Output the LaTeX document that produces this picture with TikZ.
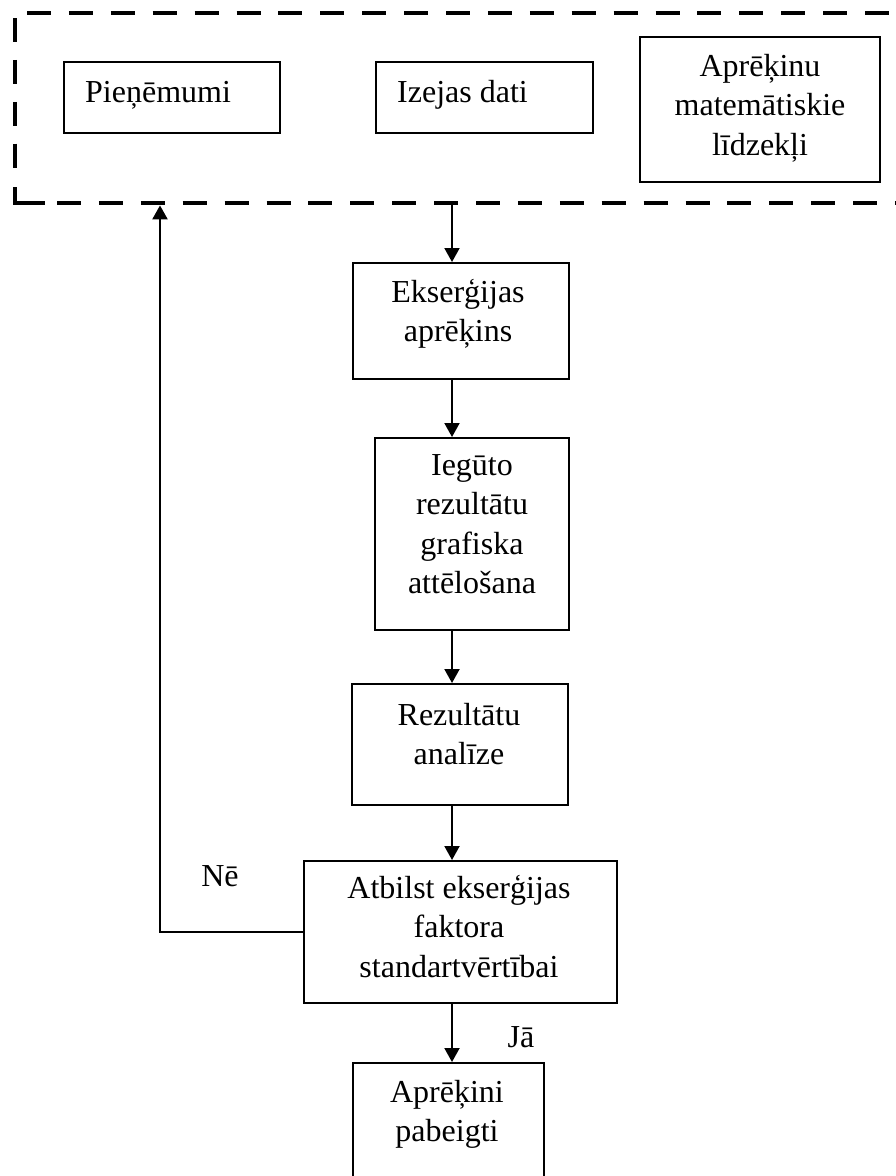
\documentclass[tikz,border=0pt]{standalone}
\usepackage{fontspec}
\setmainfont{Liberation Serif}
\usetikzlibrary{arrows.meta,calc}

\begin{document}
\begin{tikzpicture}[x=1pt,y=-1pt,
  box/.style={draw, line width=1.8pt, inner sep=0pt, anchor=north west},
  lbl/.style={inner sep=0pt, anchor=base, font=\fontsize{32}{39.5}\selectfont},
  flow/.style={line width=2pt, -{Triangle[width=15pt,length=14pt]}},
  frameline/.style={line width=4pt, dash pattern=on 24pt off 17.9pt},
]
\useasboundingbox (0,0) rectangle (896,1176);

% dashed group frame (open on the right)
\node[inner sep=0pt, minimum width=900pt, minimum height=192pt, anchor=north west] (frame) at (15,13) {};
\draw[frameline] (27,13) -- (900,13);
\draw[frameline] (15,18) -- (15,185);
\draw[line width=4pt] (15,187) -- (15,203) -- (45,203);
\draw[frameline] (57,203) -- (900,203);

% boxes
\node[box, minimum width=216pt, minimum height=71pt]  (pien) at (63,61) {};
\node[box, minimum width=217pt, minimum height=71pt]  (izej) at (375,61) {};
\node[box, minimum width=240pt, minimum height=145pt] (apr)  at (639,36) {};
\node[box, minimum width=216pt, minimum height=116pt] (eks)  at (352,262) {};
\node[box, minimum width=194pt, minimum height=192pt] (ieg)  at (374,437) {};
\node[box, minimum width=216pt, minimum height=121pt] (rez)  at (351,683) {};
\node[box, minimum width=313pt, minimum height=142pt] (dec)  at (303,860) {};
\node[box, minimum width=191pt, minimum height=130pt] (pab)  at (352,1062) {};

% texts
\node[lbl, anchor=base west] (tpien) at (85,102) {Pieņēmumi};
\node[lbl, anchor=base west] (tizej) at (397,102) {Izejas dati};
\node[lbl] (tapr) at (760,76) {\begin{tabular}[t]{@{}c@{}}Aprēķinu\\matemātiskie\\līdzekļi\end{tabular}};
\node[lbl] (teks) at (458,302) {\begin{tabular}[t]{@{}c@{}}Ekserģijas\\aprēķins\end{tabular}};
\node[lbl] (tieg) at (472,475) {\begin{tabular}[t]{@{}c@{}}Iegūto\\rezultātu\\grafiska\\attēlošana\end{tabular}};
\node[lbl] (trez) at (459,725) {\begin{tabular}[t]{@{}c@{}}Rezultātu\\analīze\end{tabular}};
\node[lbl] (tdec) at (459,898) {\begin{tabular}[t]{@{}c@{}}Atbilst ekserģijas\\faktora\\standartvērtībai\end{tabular}};
\node[lbl] (tpab) at (447,1102) {\begin{tabular}[t]{@{}c@{}}Aprēķini\\pabeigti\end{tabular}};
\node[lbl] (no)  at (220,886) {Nē};
\node[lbl] (yes) at (521,1047) {Jā};

% connectors
\coordinate (spine) at (452,0);
\coordinate (back) at (160,0);
\draw[flow] (frame.south -| spine) -- (eks.north -| spine);
\draw[flow] (eks.south -| spine) -- (ieg.north -| spine);
\draw[flow] (ieg.south -| spine) -- (rez.north -| spine);
\draw[flow] (rez.south -| spine) -- (dec.north -| spine);
\draw[flow] (dec.south -| spine) -- (pab.north -| spine);
\draw[flow, line width=2.4pt] (dec.west) -| (frame.south -| back);
\end{tikzpicture}
\end{document}
